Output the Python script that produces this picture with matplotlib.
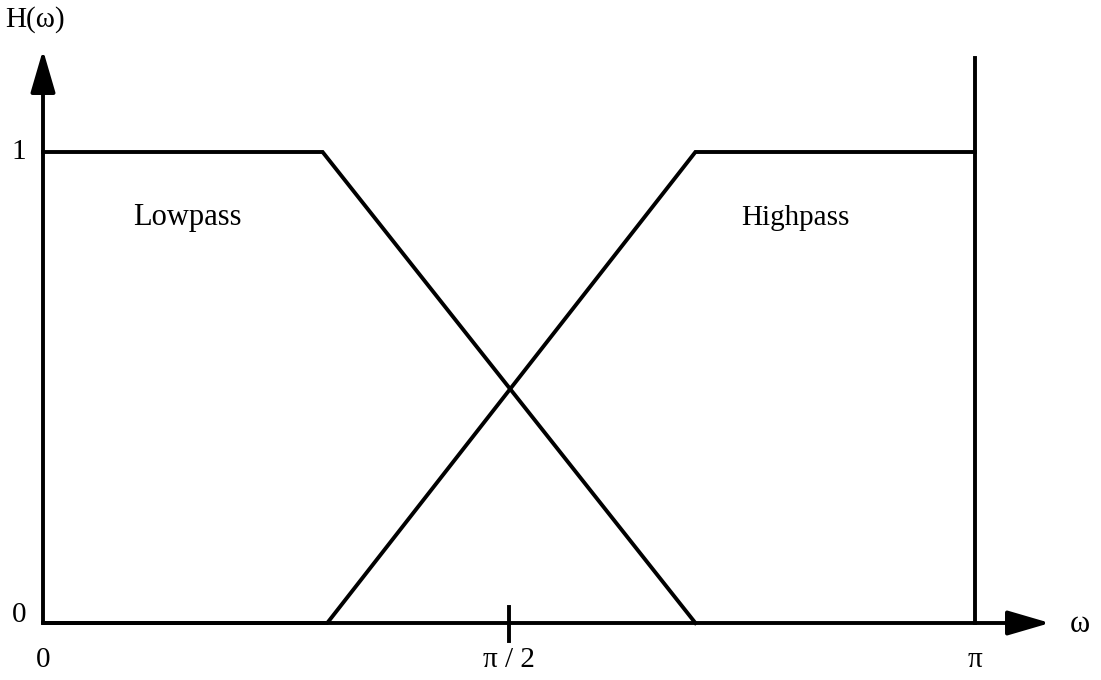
import numpy as np
import matplotlib
matplotlib.use("Agg")
import matplotlib.pyplot as plt

# frequency break points (fractions of pi) and gains
lowpass_w = [0.0, 0.30, 0.70]
lowpass_h = [1.0, 1.0, 0.0]
highpass_w = [0.0, 0.305, 0.70, 1.0]
highpass_h = [0.0, 0.0, 1.0, 1.0]
edge_w = [1.0, 1.0]      # vertical line at pi
edge_h = [0.0, 1.2]

x_ticks = [0.0, 0.5, 1.0]
x_tick_labels = ["0", "\u03c0 / 2", "\u03c0"]
y_ticks = [0.0, 1.0]
y_tick_labels = ["0", "1"]

plt.rcParams['font.family'] = ['Liberation Serif', 'DejaVu Serif']
fs = 21

fig = plt.figure(figsize=(11.01, 6.80), dpi=100)
ax = fig.add_axes([0, 0, 1, 1])
ax.set_axis_off()

# map pixels: x=0 at 43px, pi at 975px; y=0 at 623px, 1 at 152px
px_per_pi = 932.0
px_per_unit = 471.0
ax.set_xlim(-43 / px_per_pi * np.pi, (1101 - 43) / px_per_pi * np.pi)
ax.set_ylim(-(680 - 623) / px_per_unit, 623 / px_per_unit)

lw = 2.8
ax.plot(np.pi * np.array(lowpass_w), lowpass_h, color='black', lw=lw, solid_joinstyle='miter')
ax.plot(np.pi * np.array(highpass_w), highpass_h, color='black', lw=lw, solid_joinstyle='miter')
ax.plot(np.pi * np.array(edge_w), edge_h, color='black', lw=lw)

# axes with arrowheads
arrow = dict(arrowstyle='-|>,head_length=1.3,head_width=0.38', mutation_scale=20,
             lw=lw, color='black', shrinkA=0, shrinkB=0)
ax.annotate('', xy=(1007 / px_per_pi * np.pi, 0), xytext=(0, 0), arrowprops=arrow)
ax.annotate('', xy=(0, 573 / px_per_unit), xytext=(0, 0), arrowprops=arrow)

# tick at pi/2
ax.plot([np.pi / 2, np.pi / 2], [16 / px_per_unit, -18 / px_per_unit], color='black', lw=lw)

for w, lab in zip(x_ticks, x_tick_labels):
    ax.text(np.pi * w, -37 / px_per_unit, lab, ha='center', va='center', fontsize=fs)
for h, lab in zip(y_ticks, y_tick_labels):
    ax.text(-24 / px_per_pi * np.pi, h + (8 / px_per_unit if h == 0 else 0), lab,
            ha='center', va='center', fontsize=fs)

ax.text(1037 / px_per_pi * np.pi, -2 / px_per_unit, "\u03c9", ha='center', va='center', fontsize=fs + 1)
ax.text(-8 / px_per_pi * np.pi, 603 / px_per_unit, "H(\u03c9)", ha='center', va='center', fontsize=fs)

ax.text(144 / px_per_pi * np.pi, 0.86, "Lowpass", ha='center', va='center', fontsize=fs + 1)
ax.text(752 / px_per_pi * np.pi, 0.86, "Highpass", ha='center', va='center', fontsize=fs)

fig.savefig("out.png", dpi=100)
